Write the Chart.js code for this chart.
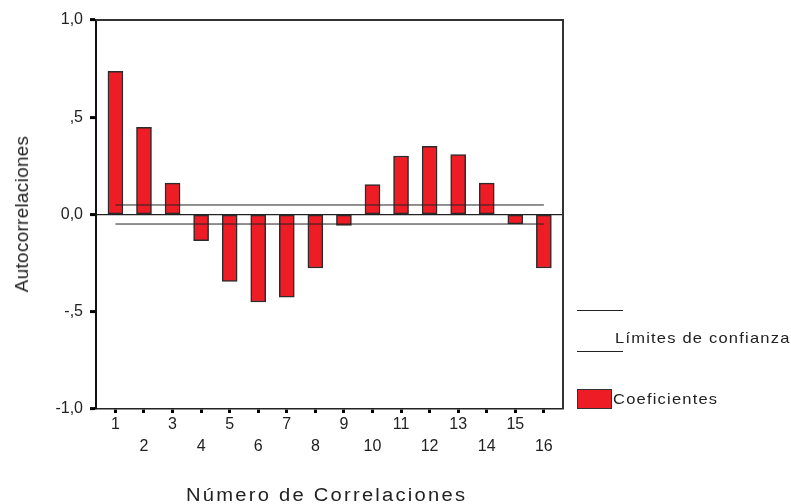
<!DOCTYPE html>
<html>
<head>
<meta charset="utf-8">
<script src="https://cdn.jsdelivr.net/npm/chart.js@4.4.1/dist/chart.umd.min.js"></script>
<style>
  body { margin: 0; background: #fff; }
  #wrap { position: relative; width: 791px; height: 504px; font-family: "Liberation Sans", Arial, sans-serif; color: #222; }
  #wrap canvas { position: absolute; left: 0; top: 0; }
  .txt { position: absolute; white-space: nowrap; transform-origin: 0 0; }
  .leg-line { position: absolute; height: 0; border-top: 1px solid #222; }
</style>
</head>
<body>
<div id="wrap">
  <canvas id="myChart" width="791" height="504"></canvas>
  <div class="txt" style="left:21.5px; top:213.5px; font-size:18px; line-height:18px; letter-spacing:0.3px; transform-origin:50% 50%; transform:translate(-50%,-50%) rotate(-90deg) scaleX(1.05);">Autocorrelaciones</div>
  <div class="txt" style="left:186px; top:486px; font-size:18px; line-height:18px; letter-spacing:2px; transform:scaleX(1.12);">Número de Correlaciones</div>
  <div class="leg-line" style="left:577px; top:310px; width:46px;"></div>
  <div class="leg-line" style="left:577px; top:351px; width:46px;"></div>
  <div class="txt" style="left:615px; top:330px; font-size:15px; line-height:15px; letter-spacing:1.1px; transform:scaleX(1.1);">Límites de confianza</div>
  <div style="position:absolute; left:577px; top:389px; width:33px; height:18px; background:#ee1c24; border:1px solid #333;"></div>
  <div class="txt" style="left:613px; top:391px; font-size:15px; line-height:15px; letter-spacing:1.1px; transform:scaleX(1.1);">Coeficientes</div>
</div>
<script>
// Datos
var retardos = [1, 2, 3, 4, 5, 6, 7, 8, 9, 10, 11, 12, 13, 14, 15, 16];
var coeficientes = [0.736, 0.448, 0.161, -0.134, -0.344, -0.450, -0.425, -0.275, -0.056, 0.154, 0.301, 0.351, 0.308, 0.161, -0.048, -0.275];
var limiteSuperior = [0.049, 0.049];
var limiteInferior = [-0.049, -0.049];
var limiteRetardos = [1, 16];
var yTickValores = [-1, -0.5, 0, 0.5, 1];
var yTickEtiquetas = ['-1,0', '-,5', '0,0', ',5', '1,0'];

// Marco superior y derecho del área del gráfico
var marcoPlugin = {
    id: 'marco',
    afterDraw: function (chart) {
        var a = chart.chartArea;
        var ctx = chart.ctx;
        ctx.save();
        ctx.strokeStyle = '#333';
        ctx.lineWidth = 2;
        ctx.beginPath();
        ctx.moveTo(a.left, a.top);
        ctx.lineTo(a.right, a.top);
        ctx.lineTo(a.right, a.bottom);
        ctx.stroke();
        ctx.restore();
    }
};

var ctx = document.getElementById('myChart').getContext('2d');
var myChart = new Chart(ctx, {
    type: 'bar',
    data: {
        datasets: [{
            type: 'line',
            label: 'Límite superior',
            data: limiteRetardos.map(function (r, i) { return { x: r, y: limiteSuperior[i] }; }),
            borderColor: '#222',
            borderWidth: 1,
            pointRadius: 0,
            order: 0
        }, {
            type: 'line',
            label: 'Límite inferior',
            data: limiteRetardos.map(function (r, i) { return { x: r, y: limiteInferior[i] }; }),
            borderColor: '#222',
            borderWidth: 1,
            pointRadius: 0,
            order: 0
        }, {
            type: 'bar',
            label: 'Coeficientes',
            data: retardos.map(function (r, i) { return { x: r, y: coeficientes[i] }; }),
            backgroundColor: '#ee1c24',
            borderColor: '#2b2b2b',
            borderWidth: 1.5,
            borderSkipped: false,
            barThickness: 15,
            order: 1
        }]
    },
    options: {
        responsive: false,
        animation: false,
        layout: { padding: { top: 20, right: 228, left: 0, bottom: 0 } },
        plugins: {
            legend: { display: false },
            tooltip: { enabled: false }
        },
        scales: {
            x: {
                type: 'linear',
                offset: false,
                min: 0.32,
                max: 16.67,
                afterBuildTicks: function (axis) {
                    axis.ticks = retardos.map(function (r) { return { value: r }; });
                },
                afterFit: function (axis) { axis.height = 95; },
                border: { color: '#222', width: 1.5 },
                grid: { offset: false, drawOnChartArea: false, color: '#000', tickColor: '#000', tickLength: 4, tickWidth: 3 },
                ticks: {
                    autoSkip: false,
                    maxRotation: 0,
                    padding: 0,
                    color: '#222',
                    font: { family: '"Liberation Sans", Arial, sans-serif', size: 16, lineHeight: 1.4 },
                    callback: function (v) {
                        return v % 2 === 1 ? [String(v), ''] : ['', String(v)];
                    }
                }
            },
            y: {
                min: -1,
                max: 1,
                afterBuildTicks: function (axis) {
                    axis.ticks = yTickValores.map(function (v) { return { value: v }; });
                },
                afterFit: function (axis) { axis.width = 96; },
                border: { color: '#111', width: 2 },
                grid: {
                    color: function (c) { return c.tick && c.tick.value === 0 ? '#222' : 'rgba(0,0,0,0)'; },
                    lineWidth: 1.2,
                    tickColor: '#000',
                    tickLength: 6,
                    tickWidth: 3
                },
                ticks: {
                    padding: 7,
                    color: '#222',
                    font: { family: '"Liberation Sans", Arial, sans-serif', size: 16 },
                    callback: function (v) {
                        return yTickEtiquetas[yTickValores.indexOf(v)];
                    }
                }
            }
        }
    },
    plugins: [marcoPlugin]
});
</script>
</body>
</html>
